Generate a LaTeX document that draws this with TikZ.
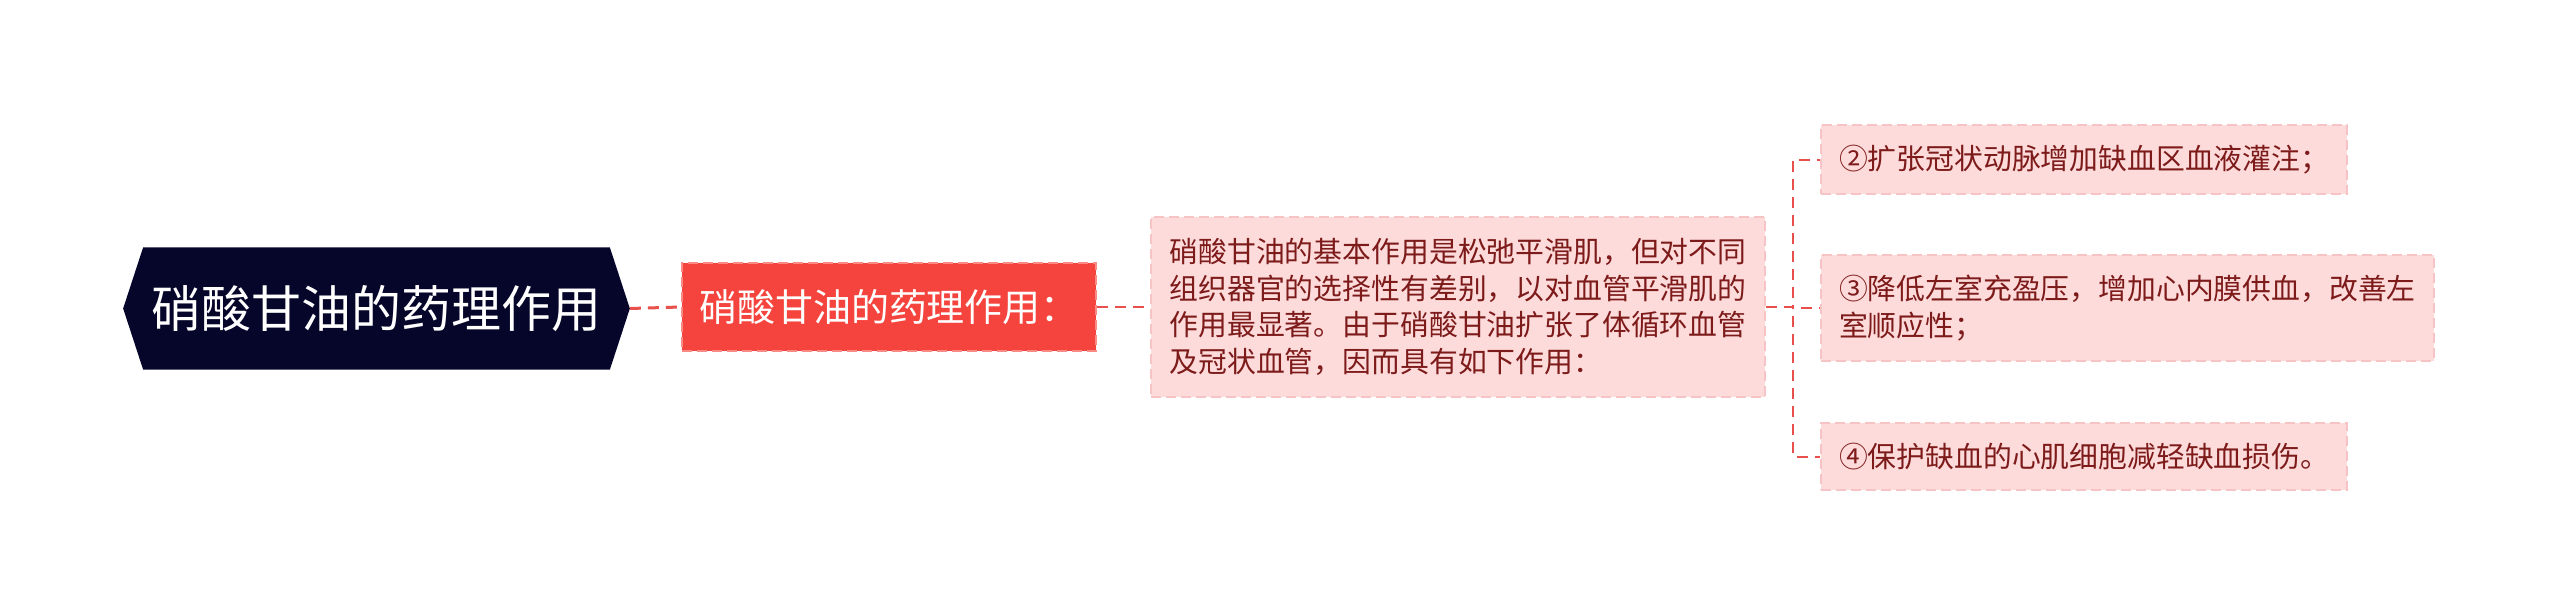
\documentclass[tikz,border=0pt]{standalone}
\usepackage{fontspec}
\newfontfamily\cjk{Noto Sans CJK SC}
\usetikzlibrary{backgrounds}

\definecolor{rootnavy}{HTML}{06062B}
\definecolor{subred}{HTML}{F5443D}
\definecolor{subredline}{HTML}{FA8A84}
\definecolor{notepink}{HTML}{FDDBDB}
\definecolor{notepinkline}{HTML}{F6C4C4}
\definecolor{notetext}{HTML}{7D1A1A}
\definecolor{linkred}{HTML}{E8504B}

\tikzset{
  roottext/.style={text=white, font=\cjk\fontsize{14.2}{17}\selectfont, minimum width=5.05cm, minimum height=1.21cm, inner sep=0pt},
  subbox/.style={fill=subred, draw=subredline, line width=0.02cm, dash pattern=on 0.1cm off 0.05cm, text=white, font=\cjk\fontsize{10.8}{13}\selectfont, minimum width=4.14cm, minimum height=0.88cm, inner sep=0pt},
  notebox/.style={fill=notepink, draw=notepinkline, line width=0.02cm, dash pattern=on 0.1cm off 0.05cm, text=notetext, font=\cjk\fontsize{8.2}{10.4}\selectfont, align=left, inner xsep=0.18cm, inner ysep=0.2cm},
  link/.style={draw=linkred, line width=0.02cm, dash pattern=on 0.11cm off 0.07cm},
}

\begin{document}
\begin{tikzpicture}[x=0.01cm, y=-0.01cm]
    \useasboundingbox (0,0) rectangle (2560,615);
    % root
    \node[roottext] (root) at (376.5,308.5) {硝酸甘油的药理作用};
    \begin{scope}[on background layer]
        \fill[rootnavy] (root.west) -- ([xshift=0.2cm]root.north west) -- ([xshift=-0.2cm]root.north east) -- (root.east) -- ([xshift=-0.2cm]root.south east) -- ([xshift=0.2cm]root.south west) -- cycle;
    \end{scope}
    % first level
    \node[subbox] (sub1) at (889,307) {硝酸甘油的药理作用：};
    \node[notebox, minimum width=6.14cm, minimum height=1.80cm] (sub2) at (1458,307) {硝酸甘油的基本作用是松弛平滑肌，但对不同\\组织器官的选择性有差别，以对血管平滑肌的\\作用最显著。由于硝酸甘油扩张了体循环血管\\及冠状血管，因而具有如下作用：};
    % leaves
    \node[notebox, anchor=west, minimum height=0.67cm] (leafa) at (1820,159.5) {②扩张冠状动脉增加缺血区血液灌注；};
    \node[notebox, anchor=west, minimum height=1.06cm] (leafb) at (1820,308) {③降低左室充盈压，增加心内膜供血，改善左\\室顺应性；};
    \node[notebox, anchor=west, minimum height=0.67cm] (leafc) at (1820,456.5) {④保护缺血的心肌细胞减轻缺血损伤。};
    % links
    \coordinate (bus) at (1793,308);
    \draw[link, line width=0.03cm] (root.east) -- (sub1.west);
    \draw[link] (sub1.east) -- (sub2.west);
    \foreach \leaf in {leafa,leafb,leafc} {
        \draw[link] (sub2.east) -- (bus |- sub2.east) |- (\leaf.west);
    }
\end{tikzpicture}
\end{document}
